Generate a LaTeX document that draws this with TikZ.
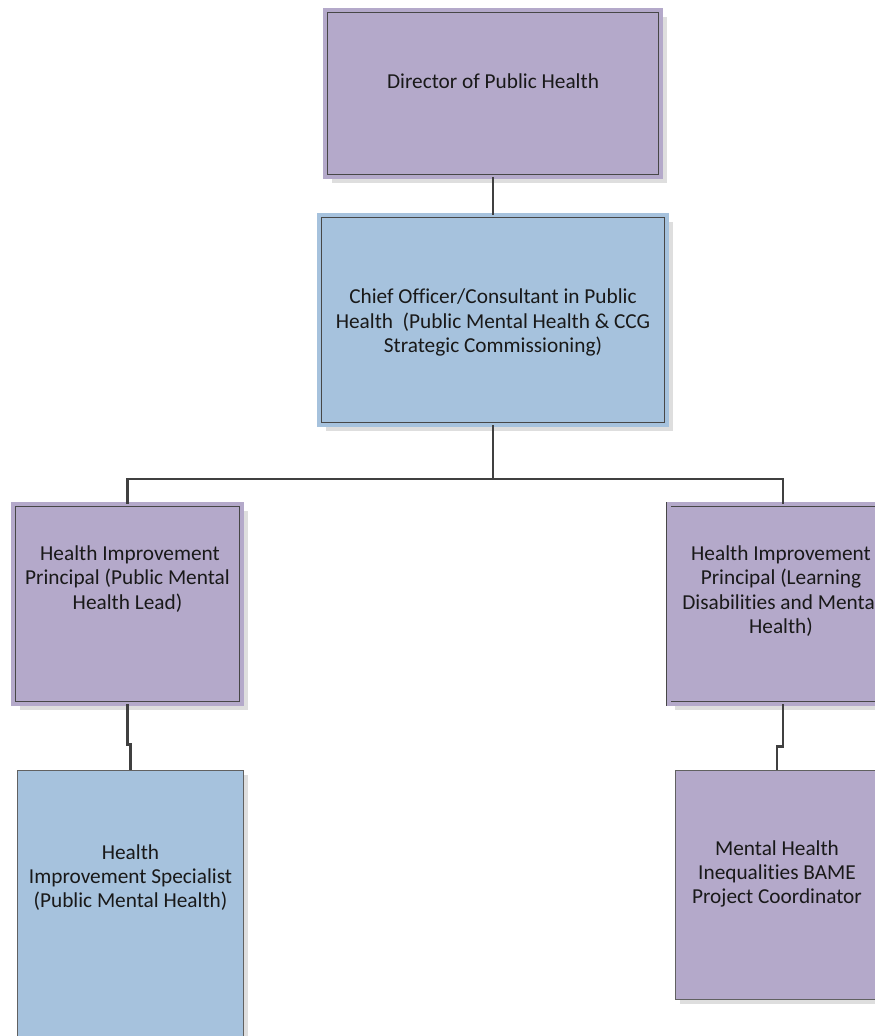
\documentclass[tikz,border=0pt]{standalone}
\usepackage{fontspec}
\setmainfont[Ligatures={NoCommon,NoContextual},RawFeature={-liga;-clig;-dlig}]{Carlito}
\usetikzlibrary{shadows}
\definecolor{rolePurple}{RGB}{180,169,202}
\definecolor{roleBlue}{RGB}{166,194,221}
\definecolor{linkGrey}{RGB}{64,64,64}
\tikzset{
  dblbox/.style={rectangle, inner sep=0pt, fill=#1, draw=black!72,
                 line width=0.9pt, double=#1, double distance=3.6pt,
                 drop shadow={shadow xshift=6.5pt, shadow yshift=-6.5pt,
                              fill=black!13, opacity=1}},
  sglbox/.style={rectangle, inner sep=0pt, fill=#1, draw=black!62,
                 line width=1.2pt,
                 drop shadow={shadow xshift=4.5pt, shadow yshift=-4.5pt,
                              fill=black!13, opacity=1}},
  roletext/.style={align=center, inner sep=0pt, text=black!90,
                   font=\fontsize{21.3}{24.2}\selectfont},
  link/.style={draw=linkGrey, line width=2.8pt}
}

\begin{document}
\begin{tikzpicture}[x=1pt, y=-1pt]
  \newcommand{\busY}{479}
  \newcommand{\jogL}{40}
  \newcommand{\jogR}{42}

  \useasboundingbox (0,0) rectangle (875,1036);
  \clip (0,0) rectangle (875,1036);

  % Draws the boxes of the chart
  \node[dblbox=rolePurple, minimum width=335.5pt, minimum height=166.5pt]
       (dph) at (493,93.5) {};
  \node[dblbox=roleBlue, minimum width=347.5pt, minimum height=209.5pt]
       (chief) at (493,320) {};
  \node[dblbox=rolePurple, minimum width=228.5pt, minimum height=199.5pt]
       (hipl) at (127.5,604) {};
  \node[dblbox=rolePurple, minimum width=228.5pt, minimum height=199.5pt]
       (hipr) at (783,604) {};
  \node[sglbox=roleBlue, minimum width=226pt, minimum height=280pt]
       (his) at (130.5,910.6) {};
  \node[sglbox=rolePurple, minimum width=203pt, minimum height=229pt]
       (mhi) at (777,885) {};

  % Writes the job titles
  \node[roletext] (dphtxt) at (493,81) {Director of Public Health};
  \node[roletext] (chieftxt) at (493,322.5)
       {Chief Officer/Consultant in Public\\
        Health\ \ (Public Mental Health \& CCG\\
        Strategic Commissioning)};
  \node[roletext] (hipltxt) at (127.5,579)
       {\hspace{5pt}Health Improvement\\Principal (Public Mental\\Health Lead)};
  \node[roletext] (hiprtxt) at (781,591)
       {Health Improvement\\Principal (Learning\\Disabilities and Mental\\Health)};
  \node[roletext] (histxt) at (130.5,877.5)
       {Health\\Improvement Specialist\\(Public Mental Health)};
  \node[roletext] (mhitxt) at (777,874)
       {Mental Health\\Inequalities BAME\\Project Coordinator};

  % Draws the reporting lines
  \coordinate (bus) at (493,\busY);
  \draw[link] (dph.south) -- (chief.north);
  \draw[link] (chief.south) -- (bus);
  \draw[link] (bus) -| (hipl.north);
  \draw[link] (bus) -| (hipr.north);
  \draw[link] (hipl.south) -- ++(0,\jogL) -| (his.north);
  \draw[link] (hipr.south) -- ++(0,\jogR) -| (mhi.north);
\end{tikzpicture}
\end{document}
